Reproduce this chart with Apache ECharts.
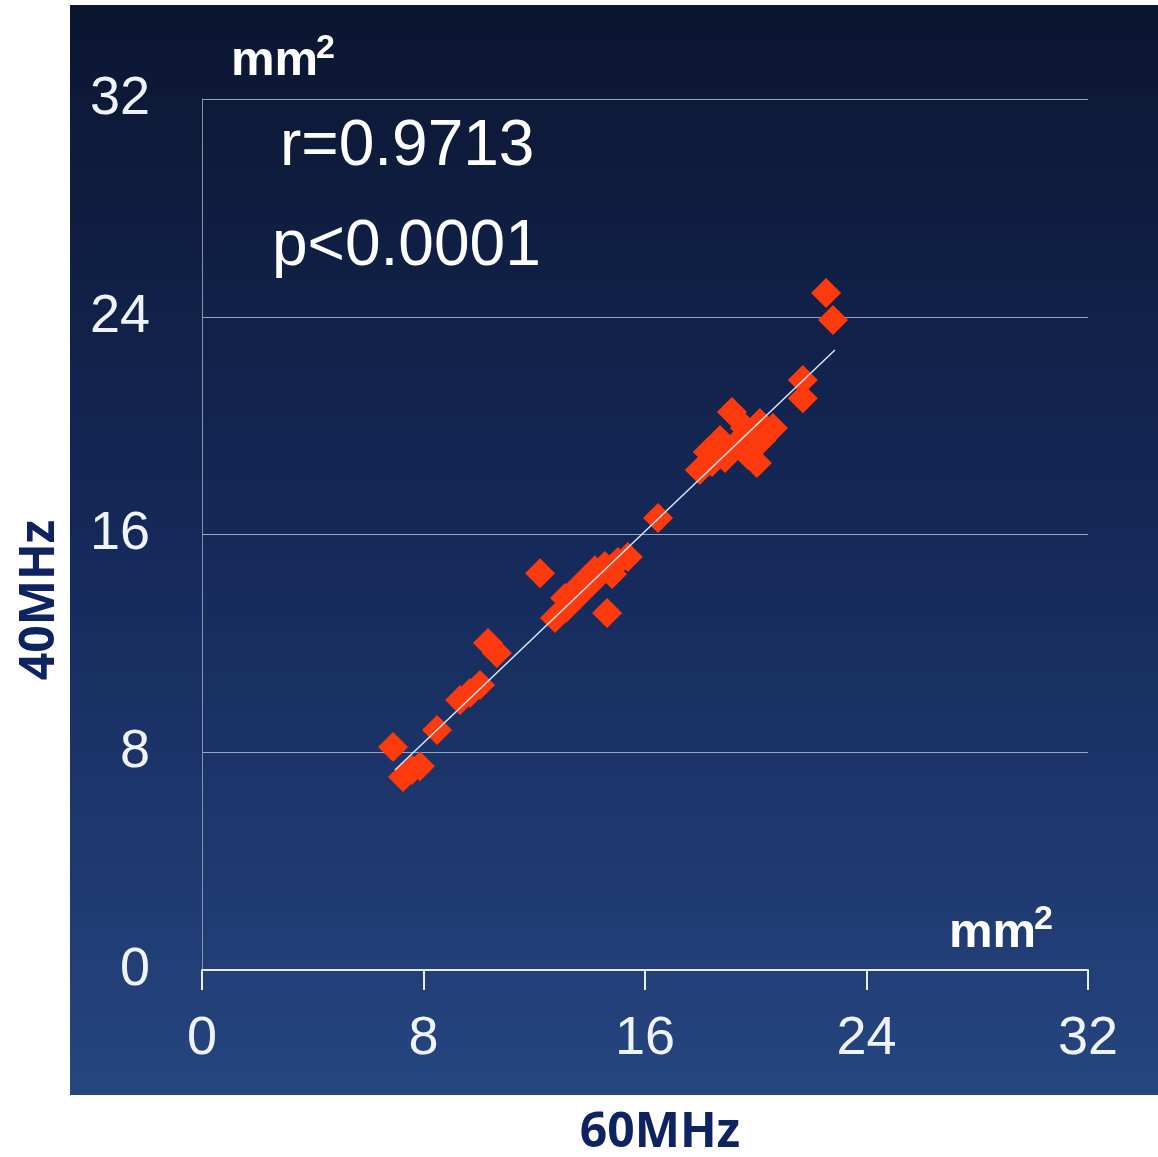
<!DOCTYPE html>
<html>
<head>
<meta charset="utf-8">
<script src="https://cdn.jsdelivr.net/npm/echarts@6/dist/echarts.min.js"></script>
<style>
html,body{margin:0;padding:0;background:#ffffff;}
#c{width:1158px;height:1157px;}
</style>
</head>
<body>
<div id="c"></div>
<script>
// 60MHz (x) vs 40MHz (y), mm^2
const xValues = [6.90, 7.26, 7.58, 7.87, 8.49, 9.32, 9.68, 10.04, 10.33, 10.65,
  12.21, 12.75, 13.15, 13.11, 13.58, 13.65, 14.08, 14.19, 14.55, 14.81, 15.02, 15.38, 14.63,
  16.47,
  17.98, 18.42, 18.27, 18.89, 18.71, 19.25, 19.14, 19.61, 19.72, 20.04, 20.22, 20.15, 20.62,
  21.70, 21.70, 22.54, 22.79];
const yValues = [8.19, 7.09, 7.35, 7.49, 8.82, 9.92, 10.18, 10.47, 12.01, 11.65,
  14.58, 12.93, 13.30, 13.67, 13.74, 14.14, 14.25, 14.69, 14.84, 14.55, 14.99, 15.17, 13.12,
  16.61,
  18.37, 18.66, 19.03, 18.81, 19.47, 19.29, 20.50, 19.91, 18.92, 18.63, 19.47, 20.10, 19.91,
  21.68, 21.01, 24.87, 23.88];
const fitX = [6.97, 22.86];
const fitY = [7.35, 22.78];
const tickValues = [0, 8, 16, 24, 32];
const statLines = ['r=0.9713', 'p<0.0001'];
const unitLabel = 'mm';
const unitPower = '2';
const xName = '60MHz';
const yName = '40MHz';

const points = xValues.map((x, i) => [x, yValues[i]]);
const fitPoints = fitX.map((x, i) => [x, fitY[i]]);

const chart = echarts.init(document.getElementById('c'));
const labelFont = '"Liberation Sans", Arial, sans-serif';
chart.setOption({
  backgroundColor: '#ffffff',
  animation: false,
  graphic: [
    { type: 'rect', z: -100, shape: { x: 70, y: 5, width: 1088, height: 1090 },
      style: { fill: new echarts.graphic.LinearGradient(0, 0, 0, 1, [
        { offset: 0, color: '#0b1630' },
        { offset: 0.5, color: '#15295a' },
        { offset: 1, color: '#26457f' }]) } },
    { type: 'text', x: 280, y: 147, style: { text: statLines[0], fill: '#ffffff',
      font: '64px ' + labelFont, align: 'left', verticalAlign: 'middle' } },
    { type: 'text', x: 272, y: 247, style: { text: statLines[1], fill: '#ffffff',
      font: '64px ' + labelFont, align: 'left', verticalAlign: 'middle' } },
    { type: 'text', x: 231, y: 61, style: { text: unitLabel, fill: '#ffffff',
      font: 'bold 49px ' + labelFont, align: 'left', verticalAlign: 'middle' } },
    { type: 'text', x: 316, y: 49, style: { text: unitPower, fill: '#ffffff',
      font: 'bold 34px ' + labelFont, align: 'left', verticalAlign: 'middle' } },
    { type: 'text', x: 949, y: 933, style: { text: unitLabel, fill: '#ffffff',
      font: 'bold 49px ' + labelFont, align: 'left', verticalAlign: 'middle' } },
    { type: 'text', x: 1034, y: 920, style: { text: unitPower, fill: '#ffffff',
      font: 'bold 34px ' + labelFont, align: 'left', verticalAlign: 'middle' } },
    { type: 'text', x: 660, y: 1133, style: { text: xName, fill: '#0f2361',
      font: 'bold 48px "Noto Sans", sans-serif', align: 'center', verticalAlign: 'middle' } },
    { type: 'text', x: 40, y: 600, rotation: Math.PI / 2, style: { text: yName, fill: '#0f2361',
      font: 'bold 48px "Noto Sans", sans-serif', align: 'center', verticalAlign: 'middle' } }
  ],
  grid: { left: 202, right: 70, top: 99, bottom: 187 },
  xAxis: {
    type: 'value', min: 0, max: 32, interval: 8,
    axisLine: { show: true, lineStyle: { color: '#e6eefa', width: 2 } },
    axisTick: { show: true, length: 20, lineStyle: { color: '#e6eefa', width: 2 } },
    axisLabel: { margin: 42, color: '#eef3fb', fontSize: 54, fontFamily: labelFont },
    splitLine: { show: false }
  },
  yAxis: {
    type: 'value', min: 0, max: 32, interval: 8,
    axisLine: { show: true, lineStyle: { color: '#8793aa', width: 1 } },
    axisTick: { show: false },
    axisLabel: { margin: 52, color: '#eef3fb', fontSize: 54, fontFamily: labelFont },
    splitLine: { show: true, lineStyle: { color: '#9aa6bd', width: 1 } }
  },
  series: [
    { type: 'scatter', data: points, symbol: 'diamond', symbolSize: [30, 30],
      itemStyle: { color: '#ff3a0c', opacity: 1 }, z: 3 },
    { type: 'line', data: fitPoints, symbol: 'none', z: 4,
      lineStyle: { color: '#dde6f4', width: 1.5 } }
  ]
});
</script>
</body>
</html>
